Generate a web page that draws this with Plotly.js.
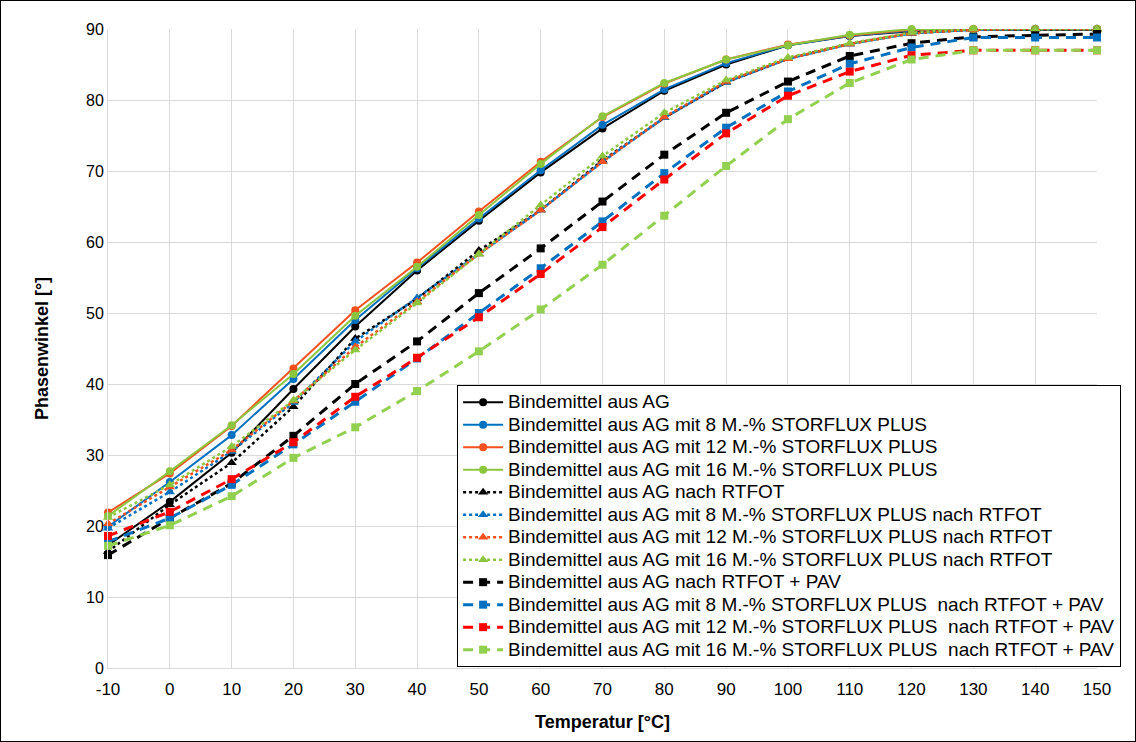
<!DOCTYPE html>
<html>
<head>
<meta charset="utf-8">
<script src="https://cdn.plot.ly/plotly-3.0.1.min.js"></script>
<style>
html,body{margin:0;padding:0;background:#fff;}
#wrap{position:relative;width:1136px;height:742px;}
#chart{width:1136px;height:742px;}
#frame{position:absolute;left:0;top:0;width:1134px;height:740px;border:1px solid #000;pointer-events:none;}
.legendtext{font-size:19px !important;}
</style>
</head>
<body>
<div id="wrap"><div id="chart"></div><div id="frame"></div></div>
<script>
const temps = [-10, 0, 10, 20, 30, 40, 50, 60, 70, 80, 90, 100, 110, 120, 130, 140, 150];

const names = [
  "Bindemittel aus AG",
  "Bindemittel aus AG mit 8 M.-% STORFLUX PLUS",
  "Bindemittel aus AG mit 12 M.-% STORFLUX PLUS",
  "Bindemittel aus AG mit 16 M.-% STORFLUX PLUS",
  "Bindemittel aus AG nach RTFOT",
  "Bindemittel aus AG mit 8 M.-% STORFLUX PLUS nach RTFOT",
  "Bindemittel aus AG mit 12 M.-% STORFLUX PLUS nach RTFOT",
  "Bindemittel aus AG mit 16 M.-% STORFLUX PLUS nach RTFOT",
  "Bindemittel aus AG nach RTFOT + PAV",
  "Bindemittel aus AG mit 8 M.-% STORFLUX PLUS  nach RTFOT + PAV",
  "Bindemittel aus AG mit 12 M.-% STORFLUX PLUS  nach RTFOT + PAV",
  "Bindemittel aus AG mit 16 M.-% STORFLUX PLUS  nach RTFOT + PAV"
];

// Frisch
const ag      = [17.3, 23.4, 30.3, 39.3, 48.1, 56.0, 63.0, 69.8, 76.0, 81.3, 85.0, 87.7, 89.0, 89.7, 89.9, 89.9, 89.9];
const ag8     = [19.9, 26.2, 32.8, 40.7, 49.0, 56.3, 63.3, 70.1, 76.5, 81.5, 85.2, 87.7, 89.0, 89.8, 89.9, 90.0, 90.0];
const ag12    = [21.9, 27.4, 34.1, 42.2, 50.4, 57.1, 64.3, 71.3, 77.6, 82.3, 85.7, 87.8, 89.1, 89.9, 90.0, 90.0, 90.0];
const ag16    = [21.4, 27.7, 34.2, 41.4, 49.6, 56.5, 63.8, 71.0, 77.7, 82.4, 85.7, 87.7, 89.2, 90.0, 90.0, 90.0, 90.0];
// nach RTFOT
const rt      = [16.4, 23.0, 28.9, 36.8, 46.4, 52.0, 58.8, 64.5, 71.5, 77.5, 82.5, 85.8, 87.9, 89.4, 89.9, 90.0, 90.0];
const rt8     = [19.7, 24.8, 30.5, 37.4, 46.0, 52.1, 58.3, 64.5, 71.3, 77.5, 82.5, 85.8, 87.9, 89.4, 89.9, 90.0, 90.0];
const rt12    = [20.3, 25.5, 30.7, 37.6, 45.2, 51.6, 58.3, 64.5, 71.3, 77.6, 82.6, 85.8, 87.9, 89.4, 89.9, 90.0, 90.0];
const rt16    = [21.2, 25.8, 31.2, 37.7, 44.8, 51.4, 58.3, 65.2, 72.1, 78.2, 82.8, 86.0, 88.0, 89.5, 90.0, 90.0, 90.0];
// nach RTFOT + PAV
const pav     = [15.9, 21.1, 26.0, 32.7, 40.0, 46.0, 52.8, 59.1, 65.7, 72.3, 78.2, 82.6, 86.2, 88.0, 88.9, 89.1, 89.3];
const pav8    = [17.8, 21.1, 25.8, 31.5, 37.5, 43.6, 50.0, 56.3, 62.9, 69.7, 76.1, 81.2, 85.1, 87.4, 88.8, 88.8, 88.8];
const pav12   = [18.6, 22.0, 26.6, 31.8, 38.2, 43.7, 49.4, 55.5, 62.1, 68.8, 75.3, 80.6, 84.0, 86.3, 87.0, 87.0, 87.0];
const pav16   = [17.2, 20.1, 24.2, 29.6, 33.9, 39.0, 44.6, 50.5, 56.8, 63.7, 70.7, 77.3, 82.4, 85.7, 87.0, 87.0, 87.0];

const seriesValues = [ag, ag8, ag12, ag16, rt, rt8, rt12, rt16, pav, pav8, pav12, pav16];

const colors = ["#000000", "#0070C0", "#F4511E", "#8CC63F",
                "#000000", "#0070C0", "#F4511E", "#8CC63F",
                "#000000", "#0070C0", "#FF0000", "#92D050"];

const traces = seriesValues.map((vals, i) => {
  const grp = Math.floor(i / 4);
  let line, marker;
  if (grp === 0) {
    line = {color: colors[i], width: 2, dash: "solid"};
    marker = {symbol: "circle", size: 8, color: colors[i]};
  } else if (grp === 1) {
    line = {color: colors[i], width: 2.5, dash: "dot"};
    marker = {symbol: "triangle-up", size: 9, color: colors[i]};
  } else {
    line = {color: colors[i], width: 3, dash: "10px,7px"};
    marker = {symbol: "square", size: 8, color: colors[i]};
  }
  return {
    x: temps, y: vals, name: names[i], type: "scatter", mode: "lines+markers",
    line: line, marker: marker, cliponaxis: false
  };
});

const layout = {
  width: 1136, height: 742,
  margin: {l: 108, r: 39, t: 29, b: 74},
  paper_bgcolor: "#ffffff", plot_bgcolor: "#ffffff",
  font: {family: "Liberation Sans, Arial, sans-serif", size: 16, color: "#222"},
  showlegend: true,
  legend: {
    x: 0.353, y: 0.443, xanchor: "left", yanchor: "top",
    bgcolor: "#ffffff", bordercolor: "#000000", borderwidth: 1,
    font: {family: "Liberation Sans, Arial, sans-serif", size: 15, color: "#000"},
    tracegroupgap: 0, itemwidth: 40
  },
  xaxis: {
    range: [-10, 150], tickmode: "array", tickvals: temps, ticktext: temps.map(String),
    showgrid: true, gridcolor: "#d9d9d9", gridwidth: 1,
    showline: true, linecolor: "#d9d9d9", linewidth: 1,
    zeroline: false, ticks: "", ticklen: 0, ticklabelstandoff: 6,
    tickfont: {family: "Liberation Sans Narrow, Arial Narrow, Liberation Sans, Arial, sans-serif", size: 17, color: "#000"},
    title: {text: "<b>Temperatur [°C]</b>", standoff: 16,
            font: {family: "Liberation Sans Narrow, Arial Narrow, Liberation Sans, Arial, sans-serif", size: 18, color: "#000"}}
  },
  yaxis: {
    range: [0, 90], dtick: 10, tick0: 0,
    showgrid: true, gridcolor: "#d9d9d9", gridwidth: 1,
    showline: true, linecolor: "#d9d9d9", linewidth: 1,
    zeroline: false, ticks: "", ticklen: 0,
    tickfont: {family: "Liberation Sans, Arial, sans-serif", size: 16, color: "#000"},
    title: {text: "<b>Phasenwinkel [°]</b>", standoff: 32,
            font: {family: "Liberation Sans Narrow, Arial Narrow, Liberation Sans, Arial, sans-serif", size: 18, color: "#000"}}
  }
};

Plotly.newPlot("chart", traces, layout, {displayModeBar: false, staticPlot: true});
</script>
</body>
</html>
